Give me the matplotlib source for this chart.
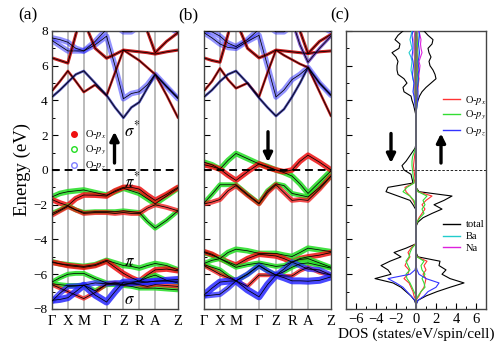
import matplotlib
matplotlib.use('Agg')
import matplotlib.pyplot as plt
from matplotlib.lines import Line2D
import numpy as np

plt.rcParams['font.family'] = ['Liberation Serif', 'DejaVu Serif']
plt.rcParams['mathtext.fontset'] = 'stix'

# ---- k-path ----
k_nodes = [0, 16, 32, 55, 72, 88, 104, 127]
k_labels = ['Γ', 'X', 'M', 'Γ', 'Z', 'R', 'A', 'Z']
k_path = [0, 8, 16, 24, 32, 43.5, 55, 63.5, 72, 80, 88, 96, 104, 115.5, 127]

# ---- spin-up bands (eV) ----
up_c1 = [7.6, 7.5, 7.35, 7.0, 6.85, 7.2, 7.7, 6.0, 4.1, 4.4, 4.5, 4.9, 5.5, 4.8, 4.1]
up_c2 = [7.45, 7.15, 6.85, 6.85, 6.85, 7.4, 8.1, 8.3, 7.95, 7.95, 8.3, 8.6, 8.8, 8.3, 7.9]
up_c4 = [6.45, 6.3, 6.15, 7.8, 9.5, 9.5, 9.5, 9.5, 9.5, 9.5, 9.5, 9.5, 9.5, 9.5, 9.5]
up_c5 = [9.5, 9.5, 9.5, 9.5, 8.6, 7.0, 6.43, 6.65, 6.9, 6.85, 6.8, 6.75, 6.67, 6.8, 6.9]
up_c6 = [9.5, 9.5, 9.5, 9.5, 9.5, 9.5, 9.5, 9.5, 9.5, 9.5, 9.0, 8.0, 6.75, 7.4, 7.9]
up_c7 = [4.55, 5.1, 5.7, 5.1, 4.48, 4.9, 4.28, 5.6, 6.9, 6.6, 6.3, 5.9, 5.5, 4.3, 3.0]
up_c8 = [4.2, 4.6, 5.05, 5.5, 5.7, 5.0, 4.3, 3.6, 3.0, 3.6, 3.9, 4.7, 5.5, 4.8, 4.15]

up_v1 = [-1.55, -1.35, -1.25, -1.2, -1.15, -1.3, -1.45, -1.25, -1.05, -1.2, -1.35, -1.65, -1.95, -1.5, -1.05]
up_v2 = [-1.7, -1.9, -2.05, -1.65, -1.44, -1.45, -1.5, -1.2, -1.0, -1.0, -1.1, -1.45, -1.75, -1.4, -1.0]
up_v3 = [-2.5, -2.3, -2.05, -2.3, -2.44, -2.4, -2.4, -2.4, -2.35, -2.4, -2.45, -2.95, -3.35, -2.9, -2.35]
up_v4 = [-2.6, -2.35, -2.1, -2.3, -2.5, -2.45, -2.45, -2.5, -2.45, -2.5, -2.5, -2.2, -2.0, -2.15, -2.35]

up_w1 = [-5.28, -5.4, -5.45, -5.5, -5.55, -5.45, -5.2, -5.35, -5.5, -5.55, -5.65, -5.5, -5.38, -5.5, -5.75]
up_w2 = [-5.32, -5.4, -5.5, -5.55, -5.6, -5.5, -5.25, -5.6, -5.95, -6.2, -6.4, -6.05, -5.75, -5.7, -5.8]
up_w3 = [-6.45, -6.2, -6.0, -5.95, -5.95, -6.25, -6.5, -6.55, -6.6, -6.5, -6.4, -6.2, -6.05, -6.35, -6.5]
up_w4 = [-6.55, -6.6, -6.65, -6.65, -6.63, -6.95, -6.6, -6.6, -6.65, -6.7, -6.8, -6.8, -6.8, -6.85, -6.9]
up_w5 = [-6.6, -6.8, -7.0, -7.2, -7.4, -7.05, -6.55, -6.5, -6.6, -6.55, -6.6, -6.7, -6.6, -6.65, -6.7]
up_b1 = [-7.5, -7.45, -7.35, -7.0, -6.63, -7.2, -7.6, -7.0, -6.45, -6.45, -6.4, -6.45, -6.4, -6.35, -6.3]
up_b2 = [-7.55, -7.1, -6.7, -6.68, -6.63, -6.5, -6.55, -6.5, -6.5, -6.55, -6.5, -6.45, -6.4, -6.4, -6.4]

# ---- spin-down bands (eV) ----
dn_c1 = [7.9, 7.6, 7.25, 7.05, 7.0, 7.4, 7.75, 6.0, 4.2, 4.6, 5.2, 5.5, 5.9, 5.0, 4.3]
dn_c2 = [8.0, 7.95, 7.7, 7.3, 7.1, 7.5, 8.1, 8.3, 7.95, 7.95, 8.3, 8.6, 8.8, 8.3, 7.95]
dn_c4 = [6.45, 6.3, 6.2, 7.8, 9.5, 9.5, 9.5, 9.5, 9.5, 9.5, 9.5, 9.5, 9.5, 9.5, 9.5]
dn_c5 = [9.5, 9.5, 9.5, 9.5, 8.6, 7.0, 6.45, 6.65, 6.9, 6.85, 6.8, 6.75, 6.7, 6.8, 6.85]
dn_c6 = [9.5, 9.5, 9.5, 9.5, 9.5, 9.5, 9.5, 9.5, 9.5, 9.5, 9.0, 8.0, 6.7, 7.4, 7.8]
dn_c9 = [9.5, 9.5, 9.5, 9.5, 9.5, 9.5, 9.5, 9.5, 9.5, 9.5, 8.6, 7.2, 6.2, 7.0, 7.7]
dn_c7 = [4.55, 5.1, 5.85, 5.2, 4.7, 5.0, 4.2, 5.6, 6.9, 6.6, 6.35, 6.1, 5.9, 4.5, 3.1]
dn_c8 = [4.2, 4.6, 5.1, 5.5, 5.7, 5.0, 4.15, 3.6, 3.1, 3.5, 4.2, 5.0, 5.9, 5.0, 4.3]

dn_u1 = [0.45, 0.3, 0.05, 0.55, 0.95, 0.65, 0.35, 0.2, 0.0, -0.15, -0.35, -0.8, -1.35, -0.7, -0.05]
dn_u2 = [0.3, 0.2, 0.05, -0.3, -0.6, -0.1, 0.35, 0.15, 0.0, -0.1, 0.0, 0.5, 0.85, 0.45, 0.0]
dn_u3 = [-1.9, -1.4, -0.85, -0.85, -0.85, -1.4, -1.92, -1.2, -0.8, -0.9, -1.35, -1.45, -1.55, -1.0, -0.35]
dn_u4 = [-1.95, -1.85, -1.7, -1.2, -0.9, -1.45, -1.95, -1.3, -0.85, -1.3, -1.75, -1.7, -1.75, -1.1, -0.35]

dn_w1 = [-4.75, -4.9, -5.1, -4.75, -4.56, -4.65, -4.8, -4.8, -4.8, -4.9, -4.98, -4.75, -4.5, -4.6, -4.7]
dn_w2 = [-4.7, -4.85, -5.1, -5.3, -5.48, -5.1, -4.85, -4.9, -4.95, -5.1, -5.3, -5.1, -5.0, -4.9, -4.75]
dn_w3 = [-5.38, -5.2, -5.1, -5.35, -5.6, -5.45, -5.35, -5.45, -5.55, -5.5, -5.3, -5.15, -5.1, -5.35, -5.6]
dn_w4 = [-5.45, -5.6, -5.75, -6.1, -6.38, -6.0, -5.5, -5.8, -6.05, -5.85, -5.6, -5.4, -5.35, -5.5, -5.65]
dn_w5 = [-5.5, -5.75, -6.0, -6.2, -6.38, -6.7, -6.05, -6.05, -6.05, -6.1, -6.1, -5.8, -5.6, -5.9, -6.05]
dn_b1 = [-7.2, -6.8, -6.45, -6.4, -6.38, -6.9, -7.3, -6.6, -6.05, -6.2, -6.38, -6.38, -6.4, -6.35, -6.15]
dn_b2 = [-7.25, -7.2, -7.15, -6.8, -6.38, -6.0, -5.5, -5.8, -6.05, -5.7, -5.3, -5.5, -5.7, -5.75, -6.05]

# ---- DOS (states/eV/spin/cell), energies -8 .. 8 eV every 0.25 eV ----
e_dos = np.linspace(-8, 8, 65)
tot_up = [0, 0, 0.2, 1.0, 2.1, 3.4, 4.8, 3.4, 2.6, 3.0, 2.3, 2.4, 0.2, 0, 0, 0,
          0, 0, 0, 0, 0.2, 0.7, 1.6, 2.6, 1.8, 2.8, 3.6, 0.3, 0, 0, 0, 0,
          0, 0, 0, 0, 0, 0, 0, 0, 0, 0, 0, 0, 0, 0.02, 0.05, 0.1,
          0.2, 0.35, 0.6, 1.0, 1.5, 2.0, 1.9, 1.7, 1.4, 1.3, 1.5, 1.3, 1.2, 1.6, 1.7, 1.2, 0.8]
tot_dn = [0, 0, 0.15, 0.5, 1.0, 1.5, 2.3, 4.1, 2.5, 2.8, 3.5, 2.6, 1.5, 2.2, 1.0, 0,
          0, 0, 0, 0, 0, 0, 0, 0.05, 0.3, 0.6, 1.8, 3.0, 2.8, 0.3, 0.4, 0.5,
          1.2, 1.4, 1.0, 0.7, 0.4, 0.1, 0, 0, 0, 0, 0, 0, 0, 0.05, 0.15, 0.25,
          0.4, 0.5, 1.2, 1.3, 0.9, 1.2, 1.8, 1.9, 1.9, 1.8, 2.0, 2.4, 1.7, 1.6, 2.1, 1.8, 1.3]
px_up = [0, 0, 0, 0.3, 0.5, 0.8, 0.9, 1.0, 0.7, 1.0, 0.8, 1.1, 0.1, 0, 0, 0,
         0, 0, 0, 0, 0.1, 0.3, 0.6, 0.9, 0.6, 1.0, 1.6, 0.2, 0, 0, 0, 0,
         0, 0, 0, 0, 0, 0, 0, 0, 0, 0, 0, 0, 0, 0, 0.02, 0.05,
         0.08, 0.1, 0.15, 0.2, 0.25, 0.3, 0.2, 0.15, 0.15, 0.2, 0.15, 0.1, 0.15, 0.2, 0.15, 0.1, 0.1]
py_up = [0, 0, 0, 0.2, 0.5, 0.9, 0.8, 0.6, 0.9, 0.6, 0.5, 0.8, 0.1, 0, 0, 0,
         0, 0, 0, 0, 0.1, 0.4, 0.8, 0.6, 0.9, 0.7, 1.1, 0.2, 0, 0, 0, 0,
         0, 0, 0, 0, 0, 0, 0, 0, 0, 0, 0, 0, 0, 0, 0.02, 0.04,
         0.06, 0.08, 0.1, 0.15, 0.2, 0.2, 0.15, 0.1, 0.1, 0.15, 0.1, 0.1, 0.1, 0.15, 0.1, 0.08, 0.05]
pz_up = [0, 0, 0.2, 0.8, 1.2, 2.0, 2.3, 1.0, 0.3, 0.1, 0, 0, 0, 0, 0, 0,
         0, 0, 0, 0, 0, 0, 0, 0, 0, 0, 0, 0, 0, 0, 0, 0,
         0, 0, 0, 0, 0, 0, 0, 0, 0, 0, 0, 0, 0, 0.02, 0.05, 0.1,
         0.15, 0.2, 0.2, 0.15, 0.2, 0.25, 0.2, 0.3, 0.25, 0.2, 0.3, 0.35, 0.3, 0.25, 0.3, 0.35, 0.3]
px_dn = [0, 0, 0, 0.2, 0.3, 0.5, 0.7, 1.2, 0.8, 0.7, 1.1, 0.9, 0.6, 0.8, 0.5, 0.05,
         0, 0, 0, 0, 0, 0, 0, 0, 0.1, 0.3, 0.6, 1.0, 1.1, 0.2, 0.1, 0.15,
         0.2, 0.25, 0.2, 0.15, 0.1, 0.02, 0, 0, 0, 0, 0, 0, 0, 0, 0.02, 0.04,
         0.05, 0.08, 0.1, 0.1, 0.08, 0.1, 0.12, 0.1, 0.1, 0.12, 0.1, 0.1, 0.08, 0.1, 0.1, 0.08, 0.05]
py_dn = [0, 0, 0, 0, 0.2, 0.4, 0.6, 0.9, 1.0, 0.6, 0.8, 1.0, 0.7, 0.6, 0.4, 0.02,
         0, 0, 0, 0, 0, 0, 0, 0, 0.1, 0.2, 0.6, 1.3, 0.9, 0.2, 0.25, 0.3,
         0.35, 0.4, 0.4, 0.35, 0.2, 0.05, 0, 0, 0, 0, 0, 0, 0, 0, 0.02, 0.03,
         0.04, 0.05, 0.08, 0.08, 0.06, 0.08, 0.1, 0.1, 0.08, 0.1, 0.08, 0.08, 0.06, 0.08, 0.08, 0.06, 0.05]
pz_dn = [0, 0, 0.1, 0.5, 0.9, 1.3, 2.0, 2.8, 0.6, 0.1, 0, 0, 0, 0, 0, 0,
         0, 0, 0, 0, 0, 0, 0, 0, 0, 0, 0, 0, 0, 0, 0, 0,
         0, 0, 0, 0, 0, 0, 0, 0, 0, 0, 0, 0, 0, 0.02, 0.05, 0.1,
         0.15, 0.2, 0.3, 0.25, 0.2, 0.3, 0.35, 0.3, 0.25, 0.3, 0.4, 0.35, 0.3, 0.3, 0.35, 0.4, 0.3]
ba_up = [0] * 45 + [0.02, 0.05, 0.08,
         0.1, 0.12, 0.15, 0.15, 0.12, 0.15, 0.18, 0.2, 0.18, 0.15, 0.2, 0.2, 0.15, 0.2, 0.22, 0.2, 0.18]
ba_dn = [0] * 45 + [0.02, 0.04, 0.06,
         0.1, 0.15, 0.2, 0.25, 0.2, 0.3, 0.4, 0.5, 0.45, 0.4, 0.5, 0.7, 0.4, 0.5, 0.6, 0.5, 0.4]
na_up = [0] * 48 + [0.05, 0.08, 0.1, 0.15, 0.2, 0.25, 0.3, 0.35, 0.4, 0.3, 0.45, 0.6, 0.5, 0.45, 0.5, 0.4, 0.3]
na_dn = [0] * 48 + [0.05, 0.06, 0.08, 0.1, 0.1, 0.12, 0.15, 0.15, 0.12, 0.15, 0.15, 0.2, 0.15, 0.15, 0.2, 0.15, 0.1]

RED, GREEN, BLUE = '#ee1010', '#22dd22', '#2828ff'
DARKRED, NAVY = '#c00808', '#2020a0'

fig = plt.figure(figsize=(5, 3.42), dpi=100)
ax_a = fig.add_axes([0.104, 0.0965, 0.252, 0.813])
ax_b = fig.add_axes([0.408, 0.0965, 0.254, 0.813])
ax_c = fig.add_axes([0.692, 0.0965, 0.280, 0.813])


def style_axis(ax):
    for s in ax.spines.values():
        s.set_color('#444444')
        s.set_linewidth(1.0)
    ax.set_ylim(-8, 8)
    ax.set_yticks(np.arange(-8, 9, 2))
    ax.set_yticks(np.arange(-8, 9, 1), minor=True)
    ax.tick_params(axis='y', direction='in', length=4, width=0.8, labelsize=9.5, pad=3)
    ax.tick_params(axis='y', which='minor', direction='in', length=2.5, width=0.7)


def draw_bands(ax, bands):
    for e, col, w, a in bands:
        ax.plot(k_path, e, color=col, lw=w, alpha=a, solid_capstyle='round',
                solid_joinstyle='round', zorder=2)
        ax.plot(k_path, e, color='k', lw=0.55, zorder=3)
    for kn in k_nodes[1:-1]:
        ax.axvline(kn, color='#b0b0b0', lw=1.2, zorder=1)
    ax.axhline(0, color='k', lw=1.4, ls=(0, (4, 2.5)), zorder=4)
    ax.set_xlim(k_nodes[0], k_nodes[-1])
    ax.set_xticks(k_nodes)
    ax.set_xticklabels(k_labels, fontsize=10.5)
    ax.tick_params(axis='x', length=0, pad=4)
    style_axis(ax)


up_set = [
    (up_c1, BLUE, 4.0, 0.5), (up_c2, BLUE, 4.0, 0.5), (up_c4, DARKRED, 2.2, 0.9),
    (up_c5, DARKRED, 2.2, 0.9), (up_c6, DARKRED, 2.2, 0.9), (up_c7, DARKRED, 1.8, 0.9),
    (up_c8, NAVY, 1.8, 0.8),
    (up_v1, GREEN, 4.0, 0.85), (up_v2, RED, 4.0, 0.85), (up_v3, GREEN, 3.5, 0.85),
    (up_v4, RED, 3.5, 0.75),
    (up_w1, GREEN, 4.0, 0.85), (up_w2, RED, 4.0, 0.85), (up_w3, GREEN, 3.5, 0.85),
    (up_w4, GREEN, 3.5, 0.85), (up_w5, RED, 3.0, 0.75),
    (up_b1, BLUE, 5.0, 0.85), (up_b2, BLUE, 4.0, 0.75),
]
dn_set = [
    (dn_c1, BLUE, 4.0, 0.5), (dn_c2, BLUE, 4.0, 0.5), (dn_c4, DARKRED, 2.2, 0.9),
    (dn_c5, DARKRED, 2.2, 0.9), (dn_c6, DARKRED, 2.2, 0.9), (dn_c9, '#6030c0', 2.2, 0.8),
    (dn_c7, DARKRED, 1.8, 0.9), (dn_c8, NAVY, 1.8, 0.8),
    (dn_u1, GREEN, 4.0, 0.85), (dn_u2, RED, 4.0, 0.85), (dn_u3, GREEN, 3.5, 0.85),
    (dn_u4, RED, 3.5, 0.75),
    (dn_w1, GREEN, 4.0, 0.85), (dn_w2, RED, 4.0, 0.85), (dn_w3, GREEN, 3.5, 0.85),
    (dn_w4, GREEN, 3.5, 0.85), (dn_w5, RED, 3.0, 0.75),
    (dn_b1, BLUE, 5.0, 0.85), (dn_b2, BLUE, 4.0, 0.75),
]

draw_bands(ax_a, up_set)
draw_bands(ax_b, dn_set)
ax_b.set_yticklabels([])
ax_a.set_ylabel('Energy (eV)', fontsize=13.5, labelpad=2)

# orbital labels and spin arrows
ax_a.text(73, 2.3, r'$\sigma^{*}$', fontsize=12, ha='left', va='center', zorder=6)
ax_a.text(73, -0.65, r'$\pi^{*}$', fontsize=12, ha='left', va='center', zorder=6)
ax_a.text(73, -5.3, r'$\pi$', fontsize=12, ha='left', va='center', zorder=6)
ax_a.text(73, -7.5, r'$\sigma$', fontsize=12, ha='left', va='center', zorder=6)
arrow_kw = dict(arrowstyle='-|>', lw=2.4, color='k', mutation_scale=13, shrinkA=0, shrinkB=0)
ax_a.annotate('', xy=(63, 2.2), xytext=(63, 0.4), arrowprops=arrow_kw, zorder=6)
ax_b.annotate('', xy=(64, 0.45), xytext=(64, 2.2), arrowprops=arrow_kw, zorder=6)

# fat-band legend in (a)
leg_a = [Line2D([], [], ls='', marker='o', ms=4, color=RED, label=r'O-$p_x$'),
         Line2D([], [], ls='', marker='o', ms=4, mfc='none', mec=GREEN, label=r'O-$p_y$'),
         Line2D([], [], ls='', marker='o', ms=4, mfc='none', mec='#8080ff', label=r'O-$p_z$')]
ax_a.legend(handles=leg_a, loc='upper left', bbox_to_anchor=(0.1, 0.665), frameon=False,
            fontsize=7.5, handlelength=1.0, handletextpad=0.6, labelspacing=0.25,
            borderaxespad=0)

# ---- DOS panel ----
ax = ax_c
e = e_dos
ax.plot(tot_up, e, color='k', lw=0.8, zorder=3)
ax.plot(-np.array(tot_dn), e, color='k', lw=0.8, zorder=3)
for up, dn, col in [(ba_up, ba_dn, '#22cccc'), (na_up, na_dn, '#dd22dd'),
                    (px_up, px_dn, '#ff3333'), (py_up, py_dn, '#33dd33'),
                    (pz_up, pz_dn, '#3333ff')]:
    ax.plot(up, e, color=col, lw=0.8, zorder=4)
    ax.plot(-np.array(dn), e, color=col, lw=0.8, zorder=4)
ax.axvline(0, color='#666666', lw=1.3, zorder=5)
ax.axhline(0, color='k', lw=0.6, ls=(0, (3, 2)), zorder=2)
ax.set_xlim(-7, 7)
ax.set_xticks(np.arange(-6, 7, 2))
ax.set_xticks(np.arange(-7, 8, 1), minor=True)
ax.tick_params(axis='x', direction='in', length=4, width=0.8, labelsize=10.5, pad=3)
ax.tick_params(axis='x', which='minor', direction='in', length=2.5, width=0.7)
style_axis(ax)
ax.set_yticklabels([])
ax.set_xlabel('DOS (states/eV/spin/cell)', fontsize=11, labelpad=1)
ax.annotate('', xy=(-2.5, 0.4), xytext=(-2.5, 2.1), arrowprops=arrow_kw, zorder=6)
ax.annotate('', xy=(2.5, 2.1), xytext=(2.5, 0.4), arrowprops=arrow_kw, zorder=6)

leg_c1 = [Line2D([], [], color='#ff3333', lw=1, label=r'O-$p_x$'),
          Line2D([], [], color='#33dd33', lw=1, label=r'O-$p_y$'),
          Line2D([], [], color='#3333ff', lw=1, label=r'O-$p_z$')]
l1 = ax.legend(handles=leg_c1, loc='upper left', bbox_to_anchor=(0.66, 0.79), frameon=False,
               fontsize=7.5, handlelength=1.7, handletextpad=0.5, labelspacing=0.25,
               borderaxespad=0)
ax.add_artist(l1)
leg_c2 = [Line2D([], [], color='k', lw=1, label='total'),
          Line2D([], [], color='#22cccc', lw=1, label='Ba'),
          Line2D([], [], color='#dd22dd', lw=1, label='Na')]
ax.legend(handles=leg_c2, loc='upper left', bbox_to_anchor=(0.66, 0.335), frameon=False,
          fontsize=7.5, handlelength=1.7, handletextpad=0.5, labelspacing=0.25,
          borderaxespad=0)

fig.text(0.056, 0.955, '(a)', fontsize=12.5, ha='center', va='center')
fig.text(0.376, 0.955, '(b)', fontsize=12.5, ha='center', va='center')
fig.text(0.68, 0.955, '(c)', fontsize=12.5, ha='center', va='center')

fig.savefig('out.png', dpi=100)
